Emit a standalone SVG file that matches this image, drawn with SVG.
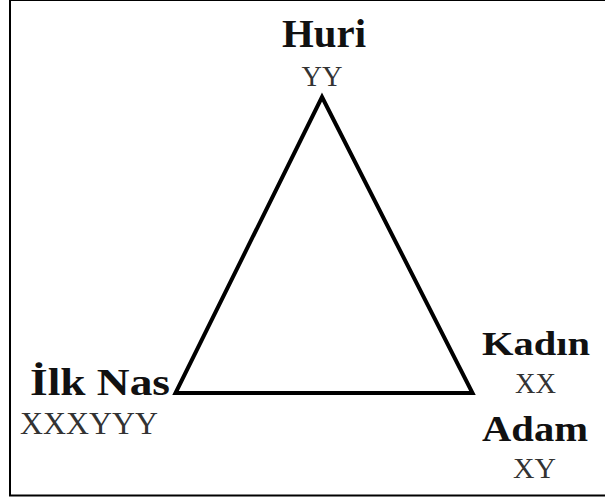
<svg xmlns="http://www.w3.org/2000/svg" width="605" height="502" viewBox="0 0 605 502">
  <style>
    .name { font-family: "Liberation Serif", "Times New Roman", serif; font-weight: bold; fill: #111; }
    .code { font-family: "Liberation Serif", "Times New Roman", serif; fill: #333; }
    .edge { stroke: #000; stroke-width: 4; fill: none; stroke-linejoin: miter; stroke-linecap: butt; }
  </style>
  <rect x="0" y="0" width="605" height="502" fill="#fff"/>
  <rect x="10" y="0" width="600" height="495.5" fill="none" stroke="#000" stroke-width="2"/>
  <g id="connectors">
    <path class="edge" d="M322,97 L472.5,393 L175.5,393 Z"/>
  </g>
  <g id="node-huri">
    <text class="name" x="324" y="47" font-size="40" text-anchor="middle" textLength="84" lengthAdjust="spacingAndGlyphs">Huri</text>
    <text class="code" x="322" y="86" font-size="30" text-anchor="middle" textLength="41" lengthAdjust="spacingAndGlyphs">YY</text>
  </g>
  <g id="node-ilk-nas">
    <text class="name" x="30" y="395" font-size="38" textLength="140" lengthAdjust="spacingAndGlyphs">İlk Nas</text>
    <text class="code" x="20" y="434" font-size="32" textLength="138" lengthAdjust="spacingAndGlyphs">XXXYYY</text>
  </g>
  <g id="node-kadin">
    <text class="name" x="482" y="355" font-size="34" textLength="108" lengthAdjust="spacingAndGlyphs">Kadın</text>
    <text class="code" x="535.5" y="393" font-size="30" text-anchor="middle" textLength="41" lengthAdjust="spacingAndGlyphs">XX</text>
  </g>
  <g id="node-adam">
    <text class="name" x="482" y="441" font-size="35" textLength="106" lengthAdjust="spacingAndGlyphs">Adam</text>
    <text class="code" x="534.5" y="478" font-size="30" text-anchor="middle" textLength="43" lengthAdjust="spacingAndGlyphs">XY</text>
  </g>
</svg>
